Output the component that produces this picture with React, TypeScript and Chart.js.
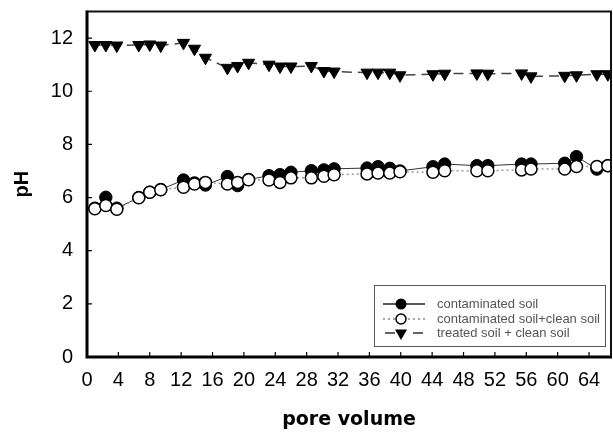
import { useEffect, useRef } from "react";
import { Chart, registerables } from "chart.js";

Chart.register(...registerables);

const poreVolume = [
  1.0, 2.4, 3.8, 6.6, 8.0, 9.4, 12.3, 13.7, 15.1, 17.9, 19.2, 20.6, 23.2, 24.6, 26.0, 28.6,
  30.2, 31.5, 35.7, 37.1, 38.6, 39.9, 44.1, 45.6, 49.7, 51.1, 55.4, 56.6, 60.9, 62.4, 65.0, 66.4,
];
const contaminatedSoil = [
  5.6, 6.01, 5.6, 6.0, 6.2, 6.3, 6.66, 6.55, 6.47, 6.79, 6.45, 6.68, 6.82, 6.86, 6.95, 7.01,
  7.04, 7.08, 7.11, 7.16, 7.1, 7.0, 7.16, 7.26, 7.2, 7.2, 7.26, 7.26, 7.29, 7.54, 7.07, 7.2,
];
const contaminatedCleanSoil = [
  5.58, 5.7, 5.56, 5.99, 6.2, 6.29, 6.39, 6.51, 6.57, 6.51, 6.57, 6.67, 6.66, 6.57, 6.74, 6.74,
  6.8, 6.86, 6.89, 6.92, 6.92, 6.97, 6.95, 7.01, 7.01, 7.01, 7.04, 7.07, 7.07, 7.17, 7.17, 7.2,
];
const treatedCleanSoil = [
  11.74, 11.74, 11.72, 11.74, 11.76, 11.72, 11.82, 11.6, 11.26, 10.88, 10.95, 11.07, 11.0, 10.93, 10.93, 10.95,
  10.76, 10.74, 10.7, 10.7, 10.7, 10.6, 10.64, 10.66, 10.67, 10.66, 10.67, 10.56, 10.58, 10.6, 10.64, 10.64,
];
const seriesLabels = ["contaminated soil", "contaminated soil+clean soil", "treated soil + clean soil"];
const xTitle = "pore volume";
const yTitle = "pH";

const toPoints = (ys: number[]) => poreVolume.map((x, i) => ({ x, y: ys[i] }));

const framePlugin = {
  id: "frameTicks",
  afterDraw(chart: any) {
    const { ctx, chartArea, scales } = chart;
    const { left, right, top, bottom } = chartArea;
    ctx.save();
    ctx.strokeStyle = "#000";
    ctx.lineWidth = 1.2;
    ctx.beginPath();
    scales.x.ticks.forEach((t: any) => {
      const px = scales.x.getPixelForValue(t.value);
      ctx.moveTo(px, bottom);
      ctx.lineTo(px, bottom - 5);
    });
    scales.y.ticks.forEach((t: any) => {
      const py = scales.y.getPixelForValue(t.value);
      ctx.moveTo(left, py);
      ctx.lineTo(left + 5, py);
    });
    ctx.stroke();
    ctx.lineWidth = 2;
    ctx.strokeStyle = "#111";
    ctx.beginPath();
    ctx.moveTo(left, top);
    ctx.lineTo(right, top);
    ctx.lineTo(right, bottom);
    ctx.stroke();
    ctx.lineWidth = 3;
    ctx.strokeStyle = "#000";
    ctx.beginPath();
    ctx.moveTo(left, top - 1);
    ctx.lineTo(left, bottom);
    ctx.lineTo(right + 1, bottom);
    ctx.stroke();

    // legend
    const bx = 374, by = 285, bw = 231, bh = 61;
    ctx.fillStyle = "#fff";
    ctx.fillRect(bx, by, bw, bh);
    ctx.lineWidth = 1;
    ctx.strokeStyle = "#555";
    ctx.strokeRect(bx + 0.5, by + 0.5, bw, bh);
    const rows = [304, 319, 333];
    const lx0 = 383, lx1 = 425, mx = 401, tx = 437;
    ctx.font = "13px 'Liberation Sans', Arial, sans-serif";
    ctx.textBaseline = "middle";
    ctx.textAlign = "left";
    rows.forEach((ry, i) => {
      ctx.save();
      ctx.beginPath();
      if (i === 0) {
        ctx.strokeStyle = "#222";
        ctx.lineWidth = 1.5;
        ctx.setLineDash([]);
      } else if (i === 1) {
        ctx.strokeStyle = "#888";
        ctx.lineWidth = 1.5;
        ctx.setLineDash([2, 3]);
      } else {
        ctx.strokeStyle = "#333";
        ctx.lineWidth = 1.5;
        ctx.setLineDash([]);
      }
      if (i === 2) {
        ctx.moveTo(lx0 + 2, ry);
        ctx.lineTo(lx0 + 12, ry);
        ctx.moveTo(lx1 - 12, ry);
        ctx.lineTo(lx1 - 2, ry);
      } else {
        ctx.moveTo(lx0, ry);
        ctx.lineTo(lx1, ry);
      }
      ctx.stroke();
      ctx.setLineDash([]);
      ctx.beginPath();
      if (i === 0) {
        ctx.fillStyle = "#000";
        ctx.arc(mx, ry, 5.5, 0, Math.PI * 2);
        ctx.fill();
      } else if (i === 1) {
        ctx.fillStyle = "#fff";
        ctx.strokeStyle = "#000";
        ctx.lineWidth = 1.5;
        ctx.arc(mx, ry, 5, 0, Math.PI * 2);
        ctx.fill();
        ctx.stroke();
      } else {
        ctx.fillStyle = "#000";
        const r = 7;
        ctx.moveTo(mx, ry + r);
        ctx.lineTo(mx - r * 0.866, ry - r / 2);
        ctx.lineTo(mx + r * 0.866, ry - r / 2);
        ctx.closePath();
        ctx.fill();
      }
      ctx.restore();
      ctx.fillStyle = "#555";
      ctx.fillText(seriesLabels[i], tx, ry + 0.5);
    });
    ctx.restore();
  },
};

export default function App() {
  const ref = useRef<HTMLCanvasElement | null>(null);
  useEffect(() => {
    if (!ref.current) return;
    const chart = new Chart(ref.current, {
      type: "line",
      data: {
        datasets: [
          {
            label: seriesLabels[0],
            data: toPoints(contaminatedSoil),
            order: 3,
            borderColor: "#333",
            borderWidth: 1,
            pointRadius: 6.2,
            pointBackgroundColor: "#000",
            pointBorderColor: "#000",
            pointBorderWidth: 1,
          },
          {
            label: seriesLabels[1],
            data: toPoints(contaminatedCleanSoil),
            order: 2,
            borderColor: "#999",
            borderWidth: 1.5,
            borderDash: [2, 3],
            pointRadius: 6,
            pointBackgroundColor: "#fff",
            pointBorderColor: "#000",
            pointBorderWidth: 1.5,
          },
          {
            label: seriesLabels[2],
            data: toPoints(treatedCleanSoil),
            order: 1,
            borderColor: "#444",
            borderWidth: 1.5,
            borderDash: [10, 6],
            pointStyle: "triangle",
            rotation: 180,
            pointRadius: 7,
            pointBackgroundColor: "#000",
            pointBorderColor: "#000",
            pointBorderWidth: 1,
          },
        ],
      },
      options: {
        responsive: false,
        animation: false,
        layout: { autoPadding: false, padding: { top: 11.5, right: 2, left: 0, bottom: 0 } },
        plugins: { legend: { display: false }, tooltip: { enabled: false } },
        scales: {
          x: {
            type: "linear",
            min: 0,
            max: 66.8,
            grid: { display: false, drawTicks: false },
            border: { display: false },
            ticks: {
              stepSize: 4,
              includeBounds: false,
              autoSkip: false,
              maxRotation: 0,
              padding: 11.5,
              color: "#000",
              font: { family: "'Liberation Sans', Arial, sans-serif", size: 20 },
            },
            title: {
              display: true,
              text: xTitle,
              color: "#000",
              font: { family: "'DejaVu Sans', sans-serif", size: 19, weight: "bold" },
              padding: { top: 0, bottom: 1.6 },
            },
            afterFit: (s: any) => {
              s.height = 76;
              s.paddingLeft = 0;
              s.paddingRight = 0;
            },
          },
          y: {
            type: "linear",
            min: 0,
            max: 13,
            grid: { display: false, drawTicks: false },
            border: { display: false },
            ticks: {
              stepSize: 2,
              includeBounds: false,
              padding: 14,
              color: "#000",
              font: { family: "'Liberation Sans', Arial, sans-serif", size: 20 },
            },
            title: {
              display: true,
              text: yTitle,
              color: "#000",
              font: { family: "'Liberation Sans', Arial, sans-serif", size: 20, weight: "bold" },
              padding: { top: 10, bottom: 0 },
            },
            afterFit: (s: any) => {
              s.width = 87;
              s.paddingTop = 0;
              s.paddingBottom = 0;
            },
          },
        },
      },
      plugins: [framePlugin],
    });
    return () => chart.destroy();
  }, []);
  return (
    <div style={{ position: "absolute", left: 0, top: 0, width: 613, height: 433, background: "#fff" }}>
      <canvas ref={ref} width={613} height={433} style={{ width: 613, height: 433, display: "block" }} />
    </div>
  );
}
